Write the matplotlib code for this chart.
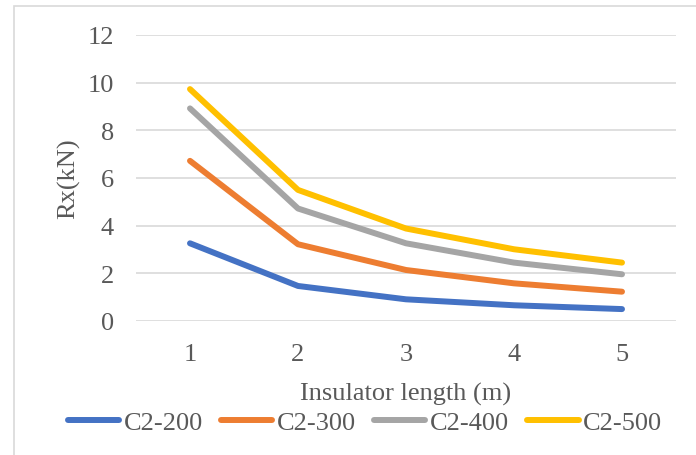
import matplotlib.pyplot as plt
from matplotlib.patches import Rectangle

# данные
lengths = [1, 2, 3, 4, 5]
series_names = ['C2-200', 'C2-300', 'C2-400', 'C2-500']
c2_200 = [3.26, 1.47, 0.91, 0.66, 0.50]
c2_300 = [6.72, 3.22, 2.14, 1.58, 1.23]
c2_400 = [8.92, 4.72, 3.26, 2.45, 1.96]
c2_500 = [9.73, 5.50, 3.88, 3.01, 2.45]
colors = ['#4472C4', '#ED7D31', '#A5A5A5', '#FFC000']

plt.rcParams['font.family'] = ['Liberation Serif', 'DejaVu Serif']
txt = '#595959'
fs = 19

fig = plt.figure(figsize=(6.96, 4.56), dpi=100)
# рамка области диаграммы
fig.patches.append(Rectangle((14 / 696, -0.1), 1.2, 1.1 - 7 / 456,
                             transform=fig.transFigure, fill=False,
                             edgecolor='#d9d9d9', lw=1.2, clip_on=False))

ax = fig.add_axes([136 / 696, 1 - 322 / 456, 540 / 696, 286 / 456])
for name, vals, c in zip(series_names, [c2_200, c2_300, c2_400, c2_500], colors):
    ax.plot(lengths, vals, color=c, lw=4.3, label=name,
            solid_joinstyle='round', solid_capstyle='round')

ax.set_xlim(0.5, 5.5)
ax.set_ylim(0, 12)
ax.set_yticks(range(0, 13, 2))
ax.set_xticks(lengths)
ax.grid(axis='y', color='#d9d9d9', lw=1.2)
ax.set_axisbelow(True)
for s in ax.spines.values():
    s.set_visible(False)
ax.tick_params(length=0, labelsize=fs, labelcolor=txt)
ax.tick_params(axis='y', pad=16)
ax.tick_params(axis='x', pad=16)

ax.set_xlabel('Insulator length (m)', fontsize=fs, color=txt, labelpad=12)
ax.set_ylabel('Rx(kN)', fontsize=fs, color=txt)
ax.yaxis.set_label_coords(-0.104, 0.5)

fig.legend(loc='center', bbox_to_anchor=(365 / 696, 1 - 423 / 456), ncol=4,
           frameon=False, fontsize=fs, labelcolor=txt, handlelength=1.95,
           handletextpad=0.17, columnspacing=0.68, borderpad=0)

fig.savefig('out.png', dpi=100)
